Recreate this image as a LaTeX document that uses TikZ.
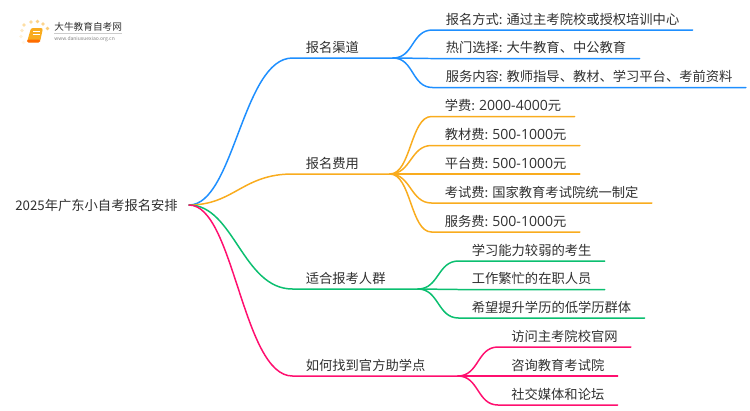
\documentclass[tikz,border=0pt]{standalone}
\usepackage{fontspec}
\setmainfont{Noto Sans CJK SC}
\newfontfamily\numfont{Open Sans}
\newcommand{\Num}[1]{{\numfont\fontsize{8pt}{9pt}\selectfont #1}}
\definecolor{BlueLine}{HTML}{1E8FFF}
\definecolor{OrangeLine}{HTML}{F9AC1E}
\definecolor{GreenLine}{HTML}{0BBF70}
\definecolor{PinkLine}{HTML}{FF0F6F}
\definecolor{TextGrey}{HTML}{303030}
\tikzset{
	Label/.style = {anchor=south west, inner xsep=0.26cm, inner ysep=0.06cm, text height=0.21cm, text depth=0.05cm, text=TextGrey, font=\fontsize{7.56pt}{9pt}\selectfont},
	Root/.style = {anchor=west, inner xsep=0.22cm, inner ysep=0pt, text=TextGrey, font=\fontsize{7.56pt}{9pt}\selectfont},
	Wire/.style = {line width=0.85pt, line cap=round},
	Fork/.style = {out=0, in=180, out distance=0.42cm, in distance=0.42cm},
	Main/.style = {out=0, in=180, out distance=0.9cm, in distance=1cm}
}
\begin{document}
\begin{tikzpicture}[x=0.02cm, y=-0.02cm]
	\useasboundingbox (0,0) rectangle (750,410);
	% logo
	\foreach \dotx/\doty/\dotcol in {24/25/40, 31/22/45, 37.5/21.5/55, 43/24/50, 47.5/28.5/60, 22/30.5/25, 21/36.5/15, 23.5/42.5/10}
		\fill [OrangeLine!\dotcol!white] (\dotx,\doty) circle (1.9);
	\fill [OrangeLine, rounded corners=1.2] (31,28) -- (43,28) -- (40,42) -- (27,42) -- cycle;
	\fill [orange!85!red, rounded corners=0.8] (27,39.5) -- (40.5,39.5) -- (40,42.5) -- (27,42.5) -- cycle;
	\draw [white, line width=0.3pt] (33,31.5) -- (40,31.5);
	\draw [white, line width=0.3pt] (32.5,34) -- (39.5,34);
	\node (logotitle) at (54,27) [anchor=west, inner sep=0pt, text=TextGrey, font=\fontsize{5.5pt}{6pt}\selectfont] {大牛教育自考网};
	\node (logourl) at (54,39) [anchor=west, inner sep=0pt, text=gray, font=\fontsize{2.85pt}{3pt}\selectfont] {www.daniuxuexiao.org.cn};
	\draw [black!20, line width=0.3pt] (logotitle.south west) ++(0,1) -- ++(68,0);
	% root
	\node (root) at (4,205) [Root] {2025年广东小自考报名安排};
	% channels
	\node (qudao) at (292.5,58) [Label] {报名渠道};
	\node (qd1) at (432.5,30) [Label] {报名方式: 通过主考院校或授权培训中心};
	\node (qd2) at (432.5,58.5) [Label] {热门选择: 大牛教育、中公教育};
	\node (qd3) at (432.5,87.5) [Label] {服务内容: 教师指导、教材、学习平台、考前资料};
	\coordinate (forkqd) at (393,58);
	\draw [Wire, BlueLine] (root.east) to [Main] (qudao.south west) -- (forkqd);
	\draw [Wire, BlueLine] (forkqd) to [Fork] (qd1.south west) -- (qd1.south east);
	\draw [Wire, BlueLine] (forkqd) to [Fork] (qd2.south west) -- (qd2.south east);
	\draw [Wire, BlueLine] (forkqd) to [Fork] (qd3.south west) -- (qd3.south east);
	% fees
	\node (feiyong) at (292.5,174) [Label] {报名费用};
	\node (fy1) at (431.5,116.5) [Label] {学费: \Num{2000-4000}元};
	\node (fy2) at (431.5,145.5) [Label] {教材费: \Num{500-1000}元};
	\node (fy3) at (431.5,174) [Label] {平台费: \Num{500-1000}元};
	\node (fy4) at (431.5,203) [Label] {考试费: 国家教育考试院统一制定};
	\node (fy5) at (431.5,232) [Label] {服务费: \Num{500-1000}元};
	\coordinate (forkfy) at (390,174);
	\draw [Wire, OrangeLine] (root.east) to [Main] (feiyong.south west) -- (forkfy);
	\draw [Wire, OrangeLine] (forkfy) to [Fork] (fy1.south west) -- (fy1.south east);
	\draw [Wire, OrangeLine] (forkfy) to [Fork] (fy2.south west) -- (fy2.south east);
	\draw [Wire, OrangeLine] (forkfy) to [Fork] (fy3.south west) -- (fy3.south east);
	\draw [Wire, OrangeLine] (forkfy) to [Fork] (fy4.south west) -- (fy4.south east);
	\draw [Wire, OrangeLine] (forkfy) to [Fork] (fy5.south west) -- (fy5.south east);
	% people
	\node (renqun) at (292.5,289) [Label] {适合报考人群};
	\node (rq1) at (458.5,261) [Label] {学习能力较弱的考生};
	\node (rq2) at (458.5,289.5) [Label] {工作繁忙的在职人员};
	\node (rq3) at (458.5,318) [Label] {希望提升学历的低学历群体};
	\coordinate (forkrq) at (418,289);
	\draw [Wire, GreenLine] (root.east) to [Main] (renqun.south west) -- (forkrq);
	\draw [Wire, GreenLine] (forkrq) to [Fork] (rq1.south west) -- (rq1.south east);
	\draw [Wire, GreenLine] (forkrq) to [Fork] (rq2.south west) -- (rq2.south east);
	\draw [Wire, GreenLine] (forkrq) to [Fork] (rq3.south west) -- (rq3.south east);
	% finding
	\node (xuedian) at (292.5,376) [Label] {如何找到官方助学点};
	\node (xd1) at (498,347) [Label] {访问主考院校官网};
	\node (xd2) at (498,376) [Label] {咨询教育考试院};
	\node (xd3) at (498,405) [Label] {社交媒体和论坛};
	\coordinate (forkxd) at (458,376);
	\draw [Wire, PinkLine] (root.east) to [Main] (xuedian.south west) -- (forkxd);
	\draw [Wire, PinkLine] (forkxd) to [Fork] (xd1.south west) -- (xd1.south east);
	\draw [Wire, PinkLine] (forkxd) to [Fork] (xd2.south west) -- (xd2.south east);
	\draw [Wire, PinkLine] (forkxd) to [Fork] (xd3.south west) -- (xd3.south east);
\end{tikzpicture}
\end{document}
